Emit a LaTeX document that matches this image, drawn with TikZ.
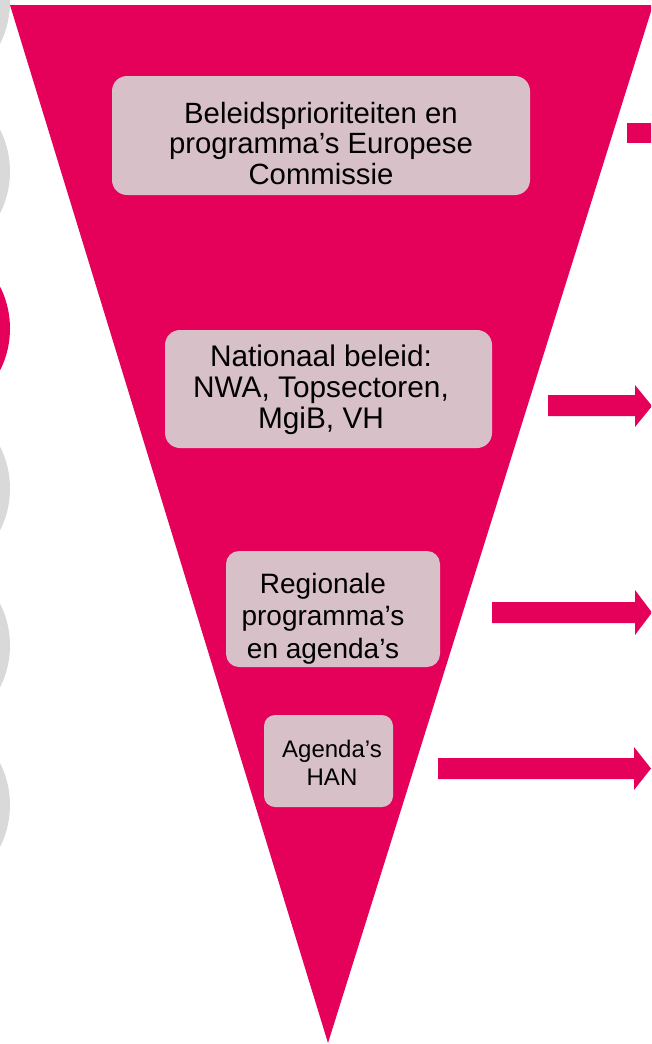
\documentclass[tikz,border=0pt]{standalone}
\usepackage{fontspec}
\setmainfont{Liberation Sans}
\definecolor{hanmag}{HTML}{E5005A}
\definecolor{boxfill}{HTML}{D8C0C8}
\definecolor{circgrey}{HTML}{D9D9D9}
\tikzset{
  funnel/.style={fill=hanmag, draw=none},
  sidecirc/.style={fill=circgrey, draw=none},
  sidecircon/.style={fill=hanmag, draw=none},
  boxbg/.style={fill=boxfill, draw=none, rounded corners=#1},
  boxtext/.style={anchor=base, align=center, inner sep=0pt, text=black},
  blockarr/.style={fill=hanmag, draw=none},
}
\begin{document}
\begin{tikzpicture}[x=1pt, y=-1pt]
\useasboundingbox (0,0) rectangle (651,1044);
\clip (0,0) rectangle (651,1044);
% side circles
\fill[sidecirc] (-83,2) circle (93);
\fill[sidecirc] (-83,171.5) circle (93);
\fill[sidecircon] (-83,328.5) circle (93);
\fill[sidecirc] (-83,488.5) circle (93);
\fill[sidecirc] (-83,645.5) circle (93);
\fill[sidecirc] (-83,805) circle (93);
% funnel
\fill[funnel] (10,5) -- (653,5) -- (328,1043) -- cycle;
% boxes
\fill[boxbg=15] (112,76) rectangle (530,195);
\fill[boxbg=15] (165,330) rectangle (492,448);
\fill[boxbg=13] (226,551) rectangle (440,667);
\fill[boxbg=11] (264,715) rectangle (393,807);
% texts
\node[boxtext, font=\fontsize{29.3}{30.5}\selectfont] (t1) at (321,184) {Beleidsprioriteiten en\\programma’s Europese\\Commissie};
\node[boxtext, font=\fontsize{29.8}{31}\selectfont] (t2) at (321,428) {Nationaal beleid:\\NWA, Topsectoren,\\MgiB, VH};
\node[boxtext, font=\fontsize{28}{32.5}\selectfont] (t3) at (323,658) {Regionale\\programma’s\\en agenda’s};
\node[boxtext, font=\fontsize{24}{28}\selectfont] (t4) at (332,785) {Agenda’s\\HAN};
% arrows
\fill[blockarr] (627,123) rectangle (660,143);
\fill[blockarr] (548,395) -- (635,395) -- (635,385) -- (652,406) -- (635,427) -- (635,416) -- (548,416) -- cycle;
\fill[blockarr] (492,602) -- (635,602) -- (635,590) -- (652,612.5) -- (635,635) -- (635,623) -- (492,623) -- cycle;
\fill[blockarr] (438,758) -- (634,758) -- (634,747) -- (651,768.5) -- (634,790) -- (634,779) -- (438,779) -- cycle;
\end{tikzpicture}
\end{document}
